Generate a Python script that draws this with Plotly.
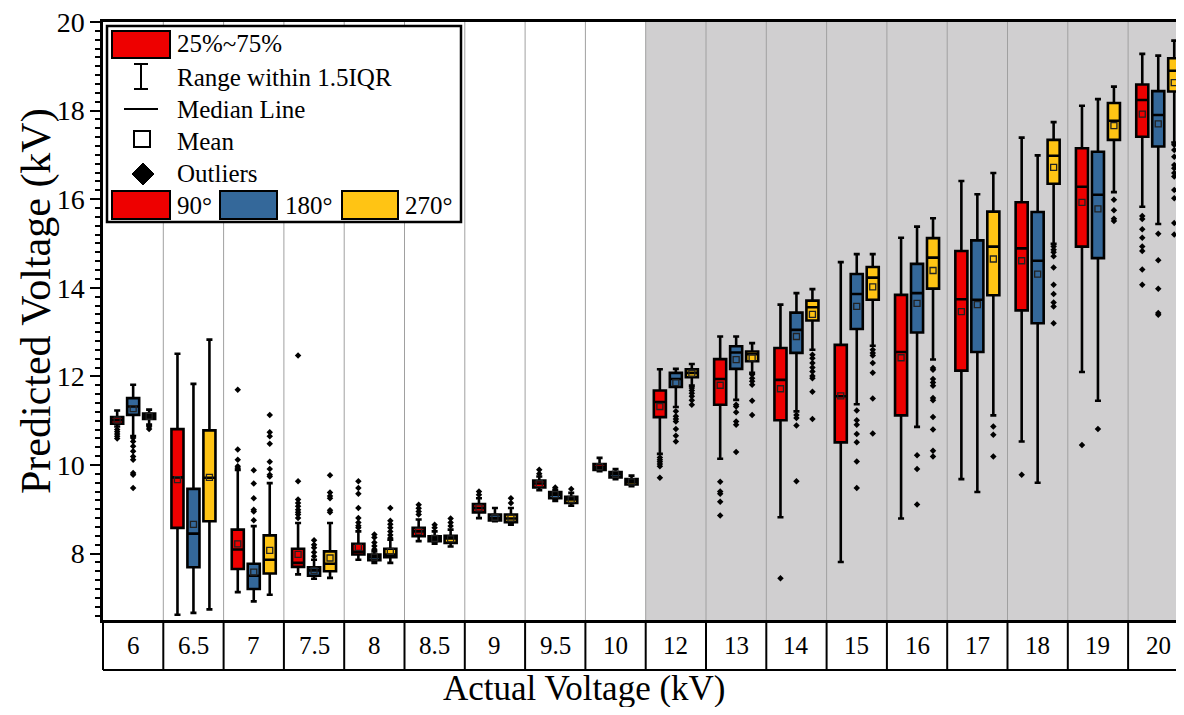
import plotly.graph_objects as go

categories = ["6", "6.5", "7", "7.5", "8", "8.5", "9", "9.5", "10",
              "12", "13", "14", "15", "16", "17", "18", "19", "20"]
series_names = ["90°", "180°", "270°"]
series_colors = ["#EE0000", "#34689A", "#FFC414"]

# ---- 90° ----
r_lo = [10.87, 6.62, 7.13, 7.53, 7.86, 8.28, 8.80, 9.43, 9.86, 10.25, 10.14, 8.82, 7.81, 8.79, 9.68, 10.53, 12.10, 15.83]
r_q1 = [10.93, 8.58, 7.65, 7.70, 7.98, 8.39, 8.93, 9.49, 9.89, 11.08, 11.36, 11.01, 10.51, 11.12, 12.13, 13.49, 14.93, 17.41]
r_md = [11.01, 9.72, 8.09, 7.79, 8.04, 8.50, 9.03, 9.58, 9.95, 11.42, 11.94, 11.92, 11.55, 12.55, 13.74, 14.89, 16.28, 18.24]
r_q3 = [11.08, 10.81, 8.54, 8.11, 8.22, 8.58, 9.12, 9.65, 10.02, 11.68, 12.39, 12.64, 12.71, 13.84, 14.83, 15.93, 17.15, 18.59]
r_hi = [11.23, 12.51, 9.89, 8.69, 8.50, 8.77, 9.25, 9.74, 10.16, 12.16, 12.90, 13.62, 14.58, 15.13, 16.41, 17.39, 18.11, 19.28]
r_mean = [11.01, 9.67, 8.22, 7.98, 8.14, 8.50, 9.03, 9.58, 9.96, 11.32, 11.80, 11.72, 11.56, 12.42, 13.46, 14.61, 15.93, 17.92]
r_out = [
    [10.80, 10.75, 10.70, 10.65, 10.60],
    [],
    [11.70, 10.35, 10.12, 9.97, 9.93],
    [12.47, 9.63, 9.22, 9.14, 9.07, 8.99, 8.93, 8.88, 8.80],
    [9.63, 9.48, 9.35, 9.03, 8.80, 8.70, 8.63, 8.58],
    [9.10, 9.02, 8.95, 8.88],
    [9.40, 9.33],
    [9.89, 9.80],
    [],
    [10.17, 10.12, 10.07, 10.02, 9.97, 9.71],
    [9.62, 9.40, 9.35, 9.17, 8.86],
    [7.44],
    [],
    [],
    [],
    [9.78],
    [10.45],
    [15.62, 15.55, 15.32, 15.13, 14.93, 14.83, 14.41, 14.07],
]

# ---- 180° ----
b_lo = [10.65, 6.66, 6.92, 7.43, 7.79, 8.22, 8.73, 9.19, 9.68, 11.31, 11.47, 11.21, 11.37, 10.86, 9.39, 9.60, 11.45, 15.44]
b_q1 = [11.13, 7.69, 7.20, 7.50, 7.85, 8.28, 8.75, 9.25, 9.72, 11.76, 12.17, 12.53, 13.07, 12.99, 12.55, 13.20, 14.67, 17.19]
b_md = [11.32, 8.45, 7.50, 7.62, 7.92, 8.34, 8.80, 9.33, 9.79, 11.94, 12.54, 13.05, 13.86, 13.88, 13.73, 14.61, 16.10, 17.90]
b_q3 = [11.51, 9.46, 7.77, 7.69, 7.98, 8.39, 8.88, 9.39, 9.84, 12.08, 12.68, 13.44, 14.31, 14.54, 15.07, 15.71, 17.07, 18.44]
b_hi = [11.81, 11.83, 8.62, 7.86, 8.05, 8.50, 9.03, 9.44, 9.91, 12.17, 12.90, 13.88, 14.76, 15.38, 16.11, 16.99, 18.26, 19.24]
b_mean = [11.27, 8.66, 7.58, 7.62, 7.92, 8.34, 8.82, 9.33, 9.79, 11.86, 12.38, 12.90, 13.58, 13.65, 13.62, 14.31, 15.78, 17.70]
b_out = [
    [10.61, 10.53, 10.42, 10.31, 10.19, 10.12, 9.82, 9.78, 9.48],
    [],
    [9.88, 9.58, 9.25, 8.99, 8.95, 8.75],
    [8.30, 8.20, 8.13, 8.03, 7.94],
    [8.43, 8.36, 8.25, 8.17, 8.10],
    [8.65, 8.58],
    [],
    [9.49],
    [],
    [11.21, 11.10, 11.04, 10.98, 10.81, 10.66, 10.53],
    [11.36, 11.32, 11.19, 10.98, 10.91, 10.29],
    [11.13, 11.06, 10.89, 9.63],
    [11.23, 11.01, 10.91, 10.70, 10.51, 10.08, 9.48],
    [10.22, 9.91, 9.11],
    [],
    [],
    [10.81],
    [15.22, 14.62, 13.98, 13.43, 13.39],
]

# ---- 270° ----
y_lo = [10.91, 6.74, 7.07, 7.45, 7.79, 8.16, 8.65, 9.08, 9.52, 11.79, 12.08, 12.60, 12.69, 12.38, 11.12, 14.99, 16.16, 17.28]
y_q1 = [11.04, 8.73, 7.55, 7.60, 7.92, 8.24, 8.71, 9.14, 9.56, 11.98, 12.34, 13.26, 13.73, 13.98, 13.83, 16.35, 17.34, 18.43]
y_md = [11.10, 9.71, 7.86, 7.77, 7.98, 8.34, 8.79, 9.22, 9.62, 12.08, 12.50, 13.56, 14.23, 14.68, 14.93, 16.98, 17.77, 18.90]
y_q3 = [11.16, 10.78, 8.41, 8.05, 8.11, 8.40, 8.88, 9.28, 9.68, 12.16, 12.56, 13.71, 14.47, 15.12, 15.72, 17.34, 18.17, 19.18]
y_hi = [11.25, 12.83, 9.59, 8.69, 8.31, 8.54, 9.03, 9.37, 9.76, 12.28, 12.75, 13.97, 14.76, 15.57, 16.59, 17.74, 18.54, 19.58]
y_mean = [11.10, 9.72, 8.07, 7.90, 8.05, 8.33, 8.80, 9.22, 9.62, 12.07, 12.42, 13.40, 14.02, 14.39, 14.65, 16.72, 17.66, 18.63]
y_out = [
    [10.86, 10.81],
    [],
    [11.13, 10.74, 10.65, 10.48, 10.07, 9.91, 9.78, 9.74],
    [9.77, 9.38, 9.30, 9.25, 8.98, 8.93],
    [9.03, 8.74, 8.66, 8.58, 8.50, 8.42, 8.35],
    [8.79, 8.70, 8.62],
    [9.25, 9.14],
    [9.46],
    [],
    [11.74, 11.68, 11.62, 11.55, 11.46, 11.36],
    [12.04, 11.96, 11.89, 11.81, 11.45, 11.13],
    [12.49, 12.41, 12.30, 12.20, 12.11, 12.01, 11.96, 11.65, 11.04],
    [12.60, 12.53, 12.47, 12.30, 12.08, 11.50, 10.71],
    [12.19, 12.15, 11.94, 11.86, 11.79, 11.51, 11.46, 11.08, 10.80, 10.32, 10.19],
    [10.87, 10.68, 10.19],
    [14.93, 14.86, 14.80, 14.71, 14.46, 14.07, 13.86, 13.67, 13.58, 13.20],
    [15.99, 15.75, 15.56, 15.51],
    [17.23, 17.11, 16.96, 16.77, 16.70, 16.59, 16.51, 16.21, 16.02, 15.46, 15.20],
]

legend_labels = ["25%~75%", "Range within 1.5IQR", "Median Line", "Mean", "Outliers"]
x_title = "Actual Voltage (kV)"
y_title = "Predicted Voltage (kV)"
y_ticks = [8, 10, 12, 14, 16, 18, 20]

FONT = "Liberation Serif, Times New Roman, serif"
OFF = 8  # default body margin of the page
W, H = 1184 - 2 * OFF, 715 - 2 * OFF
# plot area in screen pixels: x 103..1176, y 22..620
ML, MT = 103 - OFF, 22 - OFF
MR = 0
MB = H - (620 - OFF)
PW, PH = W - ML - MR, H - MT - MB
PITCH = 60.3
X_MAX = -0.5 + PW / PITCH

def px(sx):
    return (sx - 103) / PW

def py(sy):
    return (620 - sy) / PH

series = [
    (r_lo, r_q1, r_md, r_q3, r_hi, r_mean, r_out),
    (b_lo, b_q1, b_md, b_q3, b_hi, b_mean, b_out),
    (y_lo, y_q1, y_md, y_q3, y_hi, y_mean, y_out),
]
offsets = [-0.265, 0.0, 0.265]

fig = go.Figure()
n = len(categories)
for s, (lo, q1, md, q3, hi, mean, out) in enumerate(series):
    xs = [i + offsets[s] for i in range(n)]
    fig.add_trace(go.Box(
        x=xs, lowerfence=lo, q1=q1, median=md, q3=q3, upperfence=hi,
        width=0.2, whiskerwidth=0.5, fillcolor=series_colors[s],
        line=dict(color="black", width=2.6), boxpoints=False,
        name=series_names[s], showlegend=False, hoverinfo="skip",
    ))
for s, (lo, q1, md, q3, hi, mean, out) in enumerate(series):
    xs = [i + offsets[s] for i in range(n)]
    fig.add_trace(go.Scatter(
        x=xs, y=mean, mode="markers", showlegend=False, hoverinfo="skip",
        marker=dict(symbol="square-open", size=6, color="#222222", line=dict(width=1.3)),
    ))
    ox, oy = [], []
    for i, pts in enumerate(out):
        for v in pts:
            ox.append(i + offsets[s])
            oy.append(v)
    fig.add_trace(go.Scatter(
        x=ox, y=oy, mode="markers", showlegend=False, hoverinfo="skip",
        marker=dict(symbol="diamond", size=5, color="black"),
    ))

shapes = []
shapes.append(dict(type="rect", xref="x", yref="paper", x0=8.5, x1=X_MAX, y0=0, y1=1,
                   fillcolor="#D0CFD0", line=dict(width=0), layer="below"))
for i in range(n - 1):
    shapes.append(dict(type="line", xref="x", yref="paper", x0=i + 0.5, x1=i + 0.5, y0=0, y1=1,
                       line=dict(color="#A0A0A0", width=1), layer="below"))
tb = py(670)
for i in range(n - 1):
    shapes.append(dict(type="line", xref="x", yref="paper", x0=i + 0.5, x1=i + 0.5, y0=tb, y1=0,
                       line=dict(color="black", width=2)))
shapes.append(dict(type="line", xref="paper", yref="paper", x0=0, x1=0, y0=tb, y1=0,
                   line=dict(color="black", width=2)))
shapes.append(dict(type="line", xref="paper", yref="paper", x0=0, x1=1, y0=tb, y1=tb,
                   line=dict(color="black", width=2)))

# legend box
shapes.append(dict(type="rect", xref="paper", yref="paper", x0=px(107), x1=px(461), y0=py(222), y1=py(26),
                   fillcolor="white", line=dict(color="black", width=2.5)))
shapes.append(dict(type="rect", xref="paper", yref="paper", x0=px(112), x1=px(170), y0=py(58), y1=py(31),
                   fillcolor=series_colors[0], line=dict(color="black", width=2)))
shapes.append(dict(type="line", xref="paper", yref="paper", x0=px(141), x1=px(141), y0=py(89), y1=py(64),
                   line=dict(color="black", width=2)))
shapes.append(dict(type="line", xref="paper", yref="paper", x0=px(134), x1=px(148), y0=py(64), y1=py(64),
                   line=dict(color="black", width=2)))
shapes.append(dict(type="line", xref="paper", yref="paper", x0=px(134), x1=px(148), y0=py(89), y1=py(89),
                   line=dict(color="black", width=2)))
shapes.append(dict(type="line", xref="paper", yref="paper", x0=px(124), x1=px(158), y0=py(109), y1=py(109),
                   line=dict(color="black", width=2)))
shapes.append(dict(type="rect", xref="paper", yref="paper", x0=px(134), x1=px(150), y0=py(147), y1=py(131),
                   fillcolor="white", line=dict(color="black", width=2)))
cx, cy, r = 143, 174, 11
shapes.append(dict(type="path", xref="paper", yref="paper",
                   path=f"M {px(cx)} {py(cy - r)} L {px(cx + r)} {py(cy)} L {px(cx)} {py(cy + r)} L {px(cx - r)} {py(cy)} Z",
                   fillcolor="black", line=dict(color="black", width=1)))
sw = [(112, 170), (220, 277), (342, 398)]
for k, (a, b) in enumerate(sw):
    shapes.append(dict(type="rect", xref="paper", yref="paper", x0=px(a), x1=px(b), y0=py(219), y1=py(191),
                       fillcolor=series_colors[k], line=dict(color="black", width=2)))

annotations = []
for i, c in enumerate(categories):
    annotations.append(dict(x=i, y=py(645), xref="x", yref="paper", text=c, showarrow=False,
                            font=dict(family=FONT, size=25, color="black"), xanchor="center", yanchor="middle"))
annotations.append(dict(x=px(584), y=py(688), xref="paper", yref="paper", text=x_title, showarrow=False,
                        font=dict(family=FONT, size=35, color="black"), xanchor="center", yanchor="middle"))
annotations.append(dict(x=px(36), y=py(301), xref="paper", yref="paper", text=y_title, showarrow=False, textangle=-90,
                        font=dict(family=FONT, size=42, color="black"), xanchor="center", yanchor="middle"))
leg_y = [44, 77, 109, 141, 173]
for t, yy in zip(legend_labels, leg_y):
    annotations.append(dict(x=px(175), y=py(yy), xref="paper", yref="paper", text=t, showarrow=False,
                            font=dict(family=FONT, size=25, color="black"), xanchor="left", yanchor="middle"))
for k, xx in enumerate([175, 283, 403]):
    annotations.append(dict(x=px(xx), y=py(205), xref="paper", yref="paper", text=series_names[k], showarrow=False,
                            font=dict(family=FONT, size=25, color="black"), xanchor="left", yanchor="middle"))

fig.update_layout(
    width=W, height=H, margin=dict(l=ML, r=MR, t=MT, b=MB, pad=0),
    paper_bgcolor="white", plot_bgcolor="white",
    shapes=shapes, annotations=annotations, boxmode="overlay",
    font=dict(family=FONT, color="black"),
    xaxis=dict(range=[-0.5, X_MAX], showticklabels=False, ticks="", showgrid=False, zeroline=False,
               showline=True, linecolor="black", linewidth=2.5, mirror=True),
    yaxis=dict(range=[6.5, 20], tickvals=y_ticks, ticks="outside", ticklen=10, tickwidth=2, tickcolor="black",
               showgrid=False, zeroline=False, showline=True, linecolor="black", linewidth=2.5,
               ticklabeloverflow="allow",
               tickfont=dict(family=FONT, size=28, color="black"),
               minor=dict(dtick=0.2, ticks="outside", ticklen=5, tickwidth=1.5, tickcolor="black", showgrid=False)),
)

fig.write_html("out.html")
